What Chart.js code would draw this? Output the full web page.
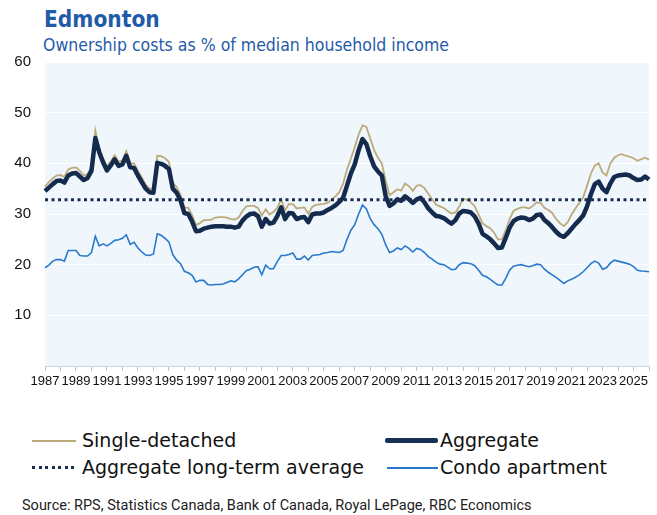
<!DOCTYPE html>
<html>
<head>
<meta charset="utf-8">
<script src="https://cdn.jsdelivr.net/npm/chart.js@4.4.0/dist/chart.umd.min.js"></script>
<style>
  html, body { margin: 0; padding: 0; background: #fff; }
  body { width: 657px; height: 515px; position: relative; overflow: hidden; }
  #title { position: absolute; left: 44px; top: 8px; font: bold 22.5px "DejaVu Sans Condensed", "Open Sans", sans-serif; color: #1f5ba8; line-height: 22px; }
  #subtitle { position: absolute; left: 43px; top: 37px; font: 17.5px "DejaVu Sans Condensed", "Open Sans", sans-serif; color: #1f5ba8; line-height: 17px; }
  #chart { position: absolute; left: 0; top: 0; }
  .lg { position: absolute; font: 19px "DejaVu Sans", sans-serif; color: #111; line-height: 19px; white-space: nowrap; }
  .sw { position: absolute; }
  #source { position: absolute; left: 22px; top: 497px; font: 14.5px Roboto, sans-serif; color: #222; white-space: nowrap; }
</style>
</head>
<body>
<div id="title">Edmonton</div>
<div id="subtitle">Ownership costs as % of median household income</div>
<canvas id="chart" width="657" height="390"></canvas>

<div class="sw" style="left:32px; top:440px; width:44px; height:2px; background:#bcaa7b;"></div>
<div class="lg" style="left:82px; top:431px;">Single-detached</div>
<div class="sw" style="left:385px; top:438px; width:53px; height:5px; border-radius:2px; background:#163056;"></div>
<div class="lg" style="left:440px; top:431px;">Aggregate</div>
<div class="sw" style="left:32px; top:466px; width:44px; height:3px; background:repeating-linear-gradient(90deg, #1b2d4f 0 3px, transparent 3px 6.5px);"></div>
<div class="lg" style="left:82px; top:458px;">Aggregate long-term average</div>
<div class="sw" style="left:387px; top:467px; width:51px; height:2px; background:#2a78cc;"></div>
<div class="lg" style="left:440px; top:458px;">Condo apartment</div>

<div id="source">Source: RPS, Statistics Canada, Bank of Canada, Royal LePage, RBC Economics</div>

<script>
// Edmonton - custos de propriedade (% da renda mediana), trimestral 1987Q1 .. 2026Q1
const firstYear = 1987;
const lastYear = 2026;

const yearTicks = ['1987', '1989', '1991', '1993', '1995', '1997', '1999', '2001', '2003', '2005',
    '2007', '2009', '2011', '2013', '2015', '2017', '2019', '2021', '2023', '2025'];

const aggregate = [
    34.5, 35.2, 35.9, 36.5, 36.6, 36.2, 37.6, 38.0, 38.1, 37.4,
    36.7, 37.1, 38.5, 45.0, 42.2, 40.2, 38.6, 39.6, 40.8, 39.5,
    39.8, 41.5, 39.2, 39.1, 37.6, 36.3, 35.0, 34.3, 34.2, 40.1,
    39.9, 39.5, 38.9, 35.0, 34.2, 32.7, 30.2, 30.0, 28.5, 26.6,
    26.7, 27.1, 27.3, 27.5, 27.6, 27.6, 27.6, 27.5, 27.5, 27.3,
    27.5, 28.7, 29.5, 30.0, 30.1, 29.6, 27.5, 29.0, 28.1, 28.3,
    29.6, 31.3, 29.0, 30.2, 30.1, 29.0, 29.3, 29.4, 28.4, 29.9,
    30.1, 30.1, 30.3, 30.8, 31.2, 31.7, 32.4, 33.2, 35.6, 38.0,
    39.8, 42.6, 44.8, 43.8, 41.4, 39.4, 38.4, 37.6, 33.5, 31.6,
    32.1, 32.9, 32.6, 33.5, 32.9, 32.2, 32.9, 33.2, 32.3, 31.1,
    30.3, 29.6, 29.5, 29.2, 28.6, 28.1, 28.8, 30.1, 30.6, 30.5,
    30.3, 29.5, 28.1, 26.1, 25.6, 25.0, 24.2, 23.3, 23.4, 25.3,
    27.3, 28.6, 29.1, 29.3, 29.2, 28.8, 29.1, 29.8, 29.9, 28.8,
    28.2, 27.4, 26.5, 25.8, 25.5, 26.2, 27.1, 28.0, 28.8, 29.7,
    31.5, 33.9, 35.9, 36.4, 35.0, 34.3, 36.0, 37.3, 37.6, 37.7,
    37.8, 37.6, 37.1, 36.7, 36.8, 37.4, 36.8
];

const singleDetached = [
    35.4, 36.3, 37.0, 37.6, 37.7, 37.3, 38.8, 39.1, 39.2, 38.5,
    37.6, 37.9, 39.3, 46.5, 43.0, 41.0, 39.4, 40.4, 41.6, 40.3,
    40.6, 42.4, 40.0, 40.0, 38.5, 37.2, 35.8, 35.0, 35.0, 41.5,
    41.4, 41.0, 40.3, 36.2, 35.3, 33.8, 31.3, 31.2, 29.8, 27.8,
    28.2, 28.8, 28.8, 28.9, 29.3, 29.4, 29.4, 29.3, 29.0, 28.9,
    29.3, 30.6, 31.5, 31.6, 31.6, 31.2, 29.7, 30.9, 29.9, 30.4,
    31.2, 32.9, 30.7, 32.0, 31.9, 31.1, 31.2, 31.3, 30.0, 31.4,
    31.8, 31.9, 32.0, 32.2, 32.8, 33.5, 34.3, 36.0, 38.8, 40.9,
    43.2, 45.7, 47.5, 47.2, 44.9, 42.6, 41.1, 40.0, 36.5, 33.7,
    34.3, 34.9, 34.6, 36.0, 35.5, 34.6, 35.6, 35.7, 35.1, 34.0,
    32.9, 31.8, 31.5, 31.2, 30.6, 30.1, 30.3, 31.5, 33.0, 32.8,
    32.3, 31.5, 29.9, 28.2, 27.6, 27.2, 26.3, 25.0, 25.0, 26.8,
    29.0, 30.6, 31.0, 31.3, 31.3, 31.1, 31.6, 32.3, 32.2, 31.2,
    30.8, 30.2, 29.0, 28.2, 27.6, 28.4, 29.9, 31.1, 32.2, 33.3,
    35.6, 38.0, 39.6, 40.0, 38.2, 37.6, 39.9, 41.1, 41.6, 41.8,
    41.5, 41.3, 41.0, 40.5, 40.8, 41.1, 40.7
];

const condo = [
    19.4, 19.9, 20.7, 21.0, 21.0, 20.7, 22.8, 22.8, 22.8, 21.8,
    21.7, 21.7, 22.4, 25.6, 23.7, 24.1, 23.7, 24.2, 24.8, 24.9,
    25.2, 25.9, 24.0, 24.4, 23.3, 22.5, 21.9, 21.8, 22.1, 26.1,
    25.8, 25.2, 24.5, 22.0, 20.9, 20.2, 18.7, 18.4, 17.9, 16.6,
    16.9, 16.9, 16.1, 16.0, 16.1, 16.1, 16.2, 16.5, 16.8, 16.6,
    17.2, 18.0, 18.8, 19.1, 19.5, 19.6, 18.0, 19.9, 19.2, 19.2,
    20.6, 21.8, 21.8, 22.0, 22.3, 21.1, 21.1, 21.7, 20.9, 21.8,
    21.9, 22.0, 22.3, 22.4, 22.6, 22.5, 22.4, 22.8, 25.0, 26.8,
    27.9, 30.0, 31.8, 31.0, 29.1, 27.9, 27.1, 26.0, 23.9, 22.4,
    22.7, 23.3, 23.0, 23.7, 23.2, 22.5, 23.2, 23.0, 22.4, 21.6,
    21.1, 20.5, 20.1, 20.0, 19.5, 19.0, 19.1, 20.0, 20.4, 20.3,
    20.2, 19.8, 18.9, 17.9, 17.6, 17.1, 16.5, 16.0, 16.0, 17.3,
    18.9, 19.7, 19.9, 20.0, 19.8, 19.6, 19.8, 20.1, 20.0, 19.1,
    18.5, 18.0, 17.5, 16.9, 16.3, 16.8, 17.1, 17.5, 18.0, 18.6,
    19.4, 20.2, 20.7, 20.3, 19.1, 19.4, 20.3, 20.9, 20.7, 20.5,
    20.3, 20.1, 19.6, 18.9, 18.75, 18.7, 18.6
];

const longTermAverage = 32.8;

// Rótulos trimestrais
const quarters = [];
for (let y = firstYear; y <= lastYear; y++) {
    for (let q = 1; q <= 4; q++) {
        if (quarters.length < aggregate.length) quarters.push(y + 'Q' + q);
    }
}

const colors = {
    navy: '#142b4e',
    tan: '#bcaa7b',
    condo: '#2a78cc',
    dots: '#1b2d4f',
    plotBg: '#eff7fc'
};

// fundo azul claro da área do gráfico
const plotBackground = {
    id: 'plotBackground',
    beforeDraw(chart) {
        const { ctx, chartArea: a } = chart;
        ctx.save();
        ctx.fillStyle = colors.plotBg;
        ctx.fillRect(a.left, a.top, a.right - a.left, a.bottom - a.top);
        ctx.restore();
    }
};

new Chart(document.getElementById('chart'), {
    type: 'line',
    data: {
        labels: quarters,
        datasets: [{
            label: 'Aggregate long-term average',
            data: quarters.map(() => longTermAverage),
            borderColor: colors.dots,
            borderWidth: 3,
            borderDash: [3, 3.5],
            order: 0
        }, {
            label: 'Aggregate',
            data: aggregate,
            borderColor: colors.navy,
            borderWidth: 4.5,
            borderJoinStyle: 'round',
            order: 1
        }, {
            label: 'Single-detached',
            data: singleDetached,
            borderColor: colors.tan,
            borderWidth: 1.8,
            order: 2
        }, {
            label: 'Condo apartment',
            data: condo,
            borderColor: colors.condo,
            borderWidth: 1.6,
            order: 3
        }]
    },
    options: {
        responsive: false,
        animation: false,
        layout: { padding: { top: 62, right: 8, left: 0, bottom: 0 } },
        elements: {
            point: { radius: 0 },
            line: { tension: 0, fill: false }
        },
        plugins: {
            legend: { display: false },
            tooltip: { enabled: false }
        },
        scales: {
            x: {
                type: 'category',
                offset: false,
                grid: {
                    drawOnChartArea: false,
                    tickLength: 5,
                    color: c => (c.index % 4 === 0 ? '#bfbfbf' : 'rgba(0,0,0,0)')
                },
                border: { display: true, color: '#cfd6da' },
                ticks: {
                    autoSkip: false,
                    maxRotation: 0,
                    minRotation: 0,
                    padding: 3,
                    color: '#111',
                    font: { family: "'Liberation Sans', sans-serif", size: 13 },
                    callback: function (value, index) {
                        const lbl = quarters[index];
                        const yr = lbl.slice(0, 4);
                        return (lbl.endsWith('Q1') && yearTicks.includes(yr)) ? yr : '';
                    }
                },
                afterFit(scale) { scale.height = 24; }
            },
            y: {
                min: 0,
                max: 60,
                grid: { drawTicks: false, color: 'rgba(255,255,255,0.95)', lineWidth: 1 },
                border: { display: false },
                ticks: {
                    stepSize: 10,
                    padding: 14,
                    color: '#111',
                    font: { family: "'Liberation Sans', sans-serif", size: 15 },
                    callback: v => (v === 0 ? '' : v)
                },
                afterFit(scale) { scale.width = 45; }
            }
        }
    },
    plugins: [plotBackground]
});
</script>
</body>
</html>
